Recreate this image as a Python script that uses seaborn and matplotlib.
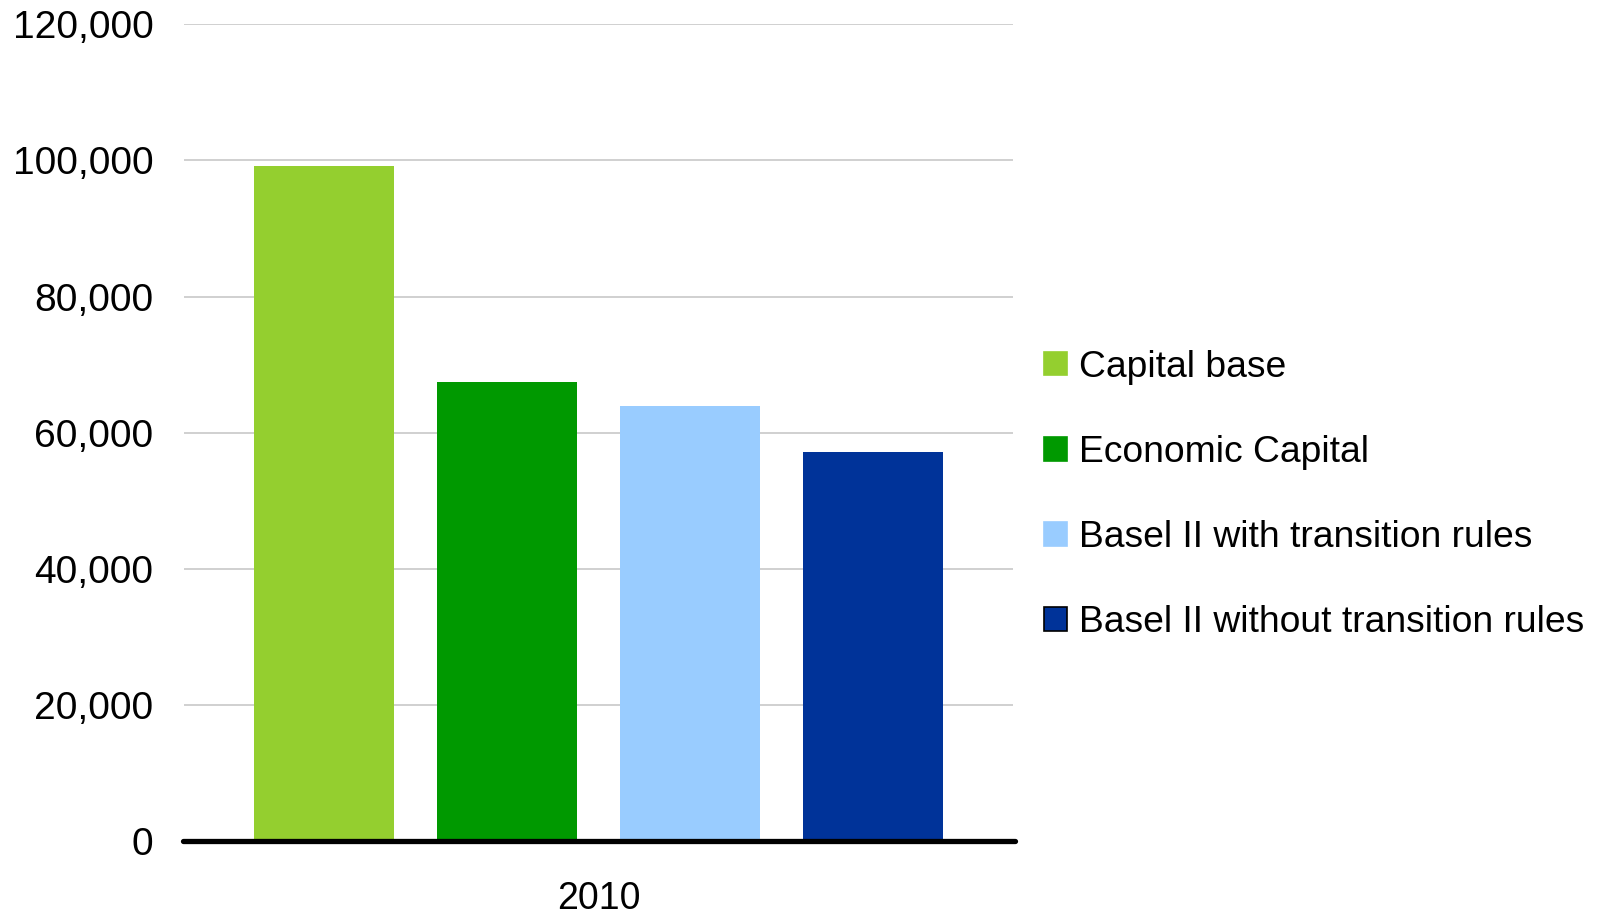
import matplotlib
matplotlib.use("Agg")
import matplotlib.pyplot as plt
from matplotlib.patches import Patch
from matplotlib.ticker import FuncFormatter
import pandas as pd
import seaborn as sns

# Capital figures for 2010 (in millions)
years = ["2010"]
series = [
    "Capital base",
    "Economic Capital",
    "Basel II with transition rules",
    "Basel II without transition rules",
]
values = [99200, 67450, 63900, 57200]
colors = ["#94CF2F", "#009900", "#99CCFF", "#003399"]
y_ticks = [0, 20000, 40000, 60000, 80000, 100000, 120000]

df = pd.DataFrame({
    "year": years * len(series),
    "series": series,
    "value": values,
})

sns.set_theme(style="white")
plt.rcParams["font.family"] = ["Liberation Sans", "DejaVu Sans"]
plt.rcParams["text.color"] = "black"

fig = plt.figure(figsize=(16.01, 9.13), dpi=100)
ax = fig.add_axes([0.1149, 0.0789, 0.5178, 0.8945])

sns.barplot(
    data=df, x="year", y="value", hue="series",
    palette=colors, hue_order=series, saturation=1,
    width=0.883, gap=0.235, ax=ax, legend=False, linewidth=0,
)

ax.set_xlim(-0.5, 0.5)
ax.set_ylim(0, 120000)
ax.set_yticks(y_ticks)
ax.yaxis.set_major_formatter(FuncFormatter(lambda v, _: f"{int(v):,}"))
ax.grid(axis="y", color="#C8C8C8", linewidth=1.2)
ax.set_axisbelow(True)
ax.set_xlabel("")
ax.set_ylabel("")

for side in ["top", "right", "left", "bottom"]:
    ax.spines[side].set_visible(False)
ax.axhline(0, color="black", linewidth=3.8, solid_capstyle="round",
           xmin=-0.001, xmax=1.002, clip_on=False, zorder=5)

ax.tick_params(axis="y", length=0, pad=22, labelsize=28, labelcolor="black")
ax.tick_params(axis="x", length=0, pad=29, labelsize=27, labelcolor="black")

handles = [
    Patch(facecolor=c, edgecolor=("black" if i == 3 else c), linewidth=1.2)
    for i, c in enumerate(colors)
]
leg = fig.legend(
    handles, series, loc="center left", bbox_to_anchor=(0.6524, 0.458),
    frameon=False, fontsize=26.8, handlelength=0.6, handleheight=0.6,
    handletextpad=0.32, labelspacing=1.345, borderaxespad=0, borderpad=0,
)
for t in leg.get_texts():
    t.set_color("black")

fig.savefig("out.png", dpi=100, facecolor="white")
